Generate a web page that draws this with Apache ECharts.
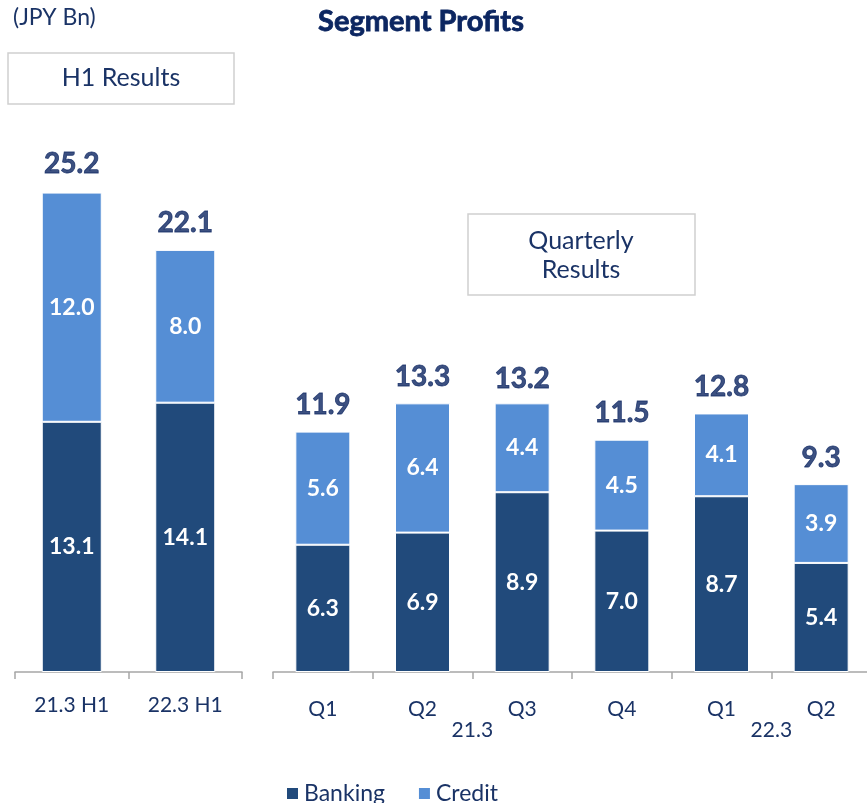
<!DOCTYPE html>
<html>
<head>
<meta charset="utf-8">
<style>
  html, body { margin: 0; padding: 0; background: #fff; }
  #chart { width: 867px; height: 803px; }
</style>
<script src="https://cdn.jsdelivr.net/npm/echarts@6/dist/echarts.min.js"></script>
</head>
<body>
<div id="chart"></div>
<script>
// half year results
var h1Cats = ['21.3 H1', '22.3 H1'];
var h1Banking = [13.1, 14.1];
var h1Credit = [12.0, 8.0];
var h1Total = [25.2, 22.1];

// quarterly results
var qCats = ['Q1', 'Q2', 'Q3', 'Q4', 'Q1', 'Q2'];
var qBanking = [6.3, 6.9, 8.9, 7.0, 8.7, 5.4];
var qCredit = [5.6, 6.4, 4.4, 4.5, 4.1, 3.9];
var qTotal = [11.9, 13.3, 13.2, 11.5, 12.8, 9.3];
var yearLabels = ['', '', '21.3', '', '', '22.3', ''];

var FONT = 'Lato';
var NAVY = '#1a3366';
var DARK = '#0c2661';
var BANK = '#214a7b';
var CRED = '#558ed5';

var chart = echarts.init(document.getElementById('chart'));

function catAxis(grid, data, margin) {
	return {
		type: 'category',
		gridIndex: grid,
		data: data,
		axisLine: { lineStyle: { color: '#a6a6a6', width: 1.5 } },
		axisTick: { show: true, length: 7, lineStyle: { color: '#a6a6a6', width: 1.5 } },
		axisLabel: { color: NAVY, fontSize: 21, fontFamily: FONT, margin: margin }
	};
}

var insideLabel = {
	show: true,
	position: 'inside',
	color: '#fff',
	fontWeight: 'bold',
	fontSize: 23,
	fontFamily: FONT,
	formatter: function (p) { return p.value.toFixed(1); }
};

var totalLabel = {
	show: true,
	position: 'top',
	distance: 12,
	color: DARK,
	fontWeight: 'bold',
	fontSize: 28,
	fontFamily: FONT,
	textBorderColor: DARK,
	textBorderWidth: 0.8,
	formatter: function (p) { return p.value.toFixed(1); }
};

chart.setOption({
	animation: false,
	title: {
		text: 'Segment Profits',
		left: 416,
		textAlign: 'center',
		top: 2,
		textStyle: { color: DARK, fontSize: 29, fontWeight: 'bold', fontFamily: FONT, textBorderColor: DARK, textBorderWidth: 0.8 }
	},
	legend: {
		data: ['Banking', 'Credit'],
		left: 280,
		top: 777,
		itemWidth: 13,
		itemHeight: 13,
		itemGap: 32,
		icon: 'rect',
		textStyle: { color: NAVY, fontSize: 23, fontFamily: FONT }
	},
	grid: [
		{ left: 15, top: 99, width: 227, height: 573, outerBoundsMode: 'none' },
		{ left: 273, top: 66, width: 598, height: 606, outerBoundsMode: 'none' }
	],
	xAxis: [
		catAxis(0, h1Cats, 23),
		catAxis(1, qCats, 27),
		{
			type: 'category',
			gridIndex: 1,
			data: yearLabels,
			boundaryGap: false,
			position: 'bottom',
			axisLine: { show: false },
			axisTick: { show: false },
			axisLabel: { color: NAVY, fontSize: 21, fontFamily: FONT, margin: 48, interval: 0 }
		}
	],
	yAxis: [
		{ type: 'value', gridIndex: 0, min: 0, max: 30, show: false },
		{ type: 'value', gridIndex: 1, min: 0, max: 30, show: false }
	],
	graphic: [
		{
			type: 'text', left: 13, top: 6,
			style: { text: '(JPY Bn)', fill: NAVY, fontSize: 23, fontFamily: FONT }
		},
		{
			type: 'rect', shape: { x: 8, y: 53, width: 226, height: 51 },
			style: { fill: '#fff', stroke: '#d0d0d0', lineWidth: 1.5 }
		},
		{
			type: 'text', x: 121, y: 78,
			style: { text: 'H1 Results', fill: NAVY, fontSize: 25, fontFamily: FONT, align: 'center', verticalAlign: 'middle' }
		},
		{
			type: 'rect', shape: { x: 468, y: 214, width: 227, height: 81 },
			style: { fill: '#fff', stroke: '#d0d0d0', lineWidth: 1.5 }
		},
		{
			type: 'text', x: 581, y: 255,
			style: { text: 'Quarterly\nResults', fill: NAVY, fontSize: 25, lineHeight: 29, fontFamily: FONT, align: 'center', verticalAlign: 'middle' }
		}
	],
	series: [
		{
			name: 'Banking', type: 'bar', xAxisIndex: 0, yAxisIndex: 0, stack: 'h1',
			barWidth: 60, data: h1Banking, label: insideLabel,
			itemStyle: { color: BANK, borderColor: '#fff', borderWidth: 1 }
		},
		{
			name: 'Credit', type: 'bar', xAxisIndex: 0, yAxisIndex: 0, stack: 'h1',
			barWidth: 60, data: h1Credit, label: insideLabel,
			itemStyle: { color: CRED, borderColor: '#fff', borderWidth: 1 }
		},
		{
			name: 'h1Total', type: 'scatter', xAxisIndex: 0, yAxisIndex: 0,
			symbolSize: 1, itemStyle: { color: 'rgba(0,0,0,0)' }, silent: true,
			data: h1Total, label: totalLabel
		},
		{
			name: 'Banking', type: 'bar', xAxisIndex: 1, yAxisIndex: 1, stack: 'q',
			barWidth: 55, data: qBanking, label: insideLabel,
			itemStyle: { color: BANK, borderColor: '#fff', borderWidth: 1 }
		},
		{
			name: 'Credit', type: 'bar', xAxisIndex: 1, yAxisIndex: 1, stack: 'q',
			barWidth: 55, data: qCredit, label: insideLabel,
			itemStyle: { color: CRED, borderColor: '#fff', borderWidth: 1 }
		},
		{
			name: 'qTotal', type: 'scatter', xAxisIndex: 1, yAxisIndex: 1,
			symbolSize: 1, itemStyle: { color: 'rgba(0,0,0,0)' }, silent: true,
			data: qTotal, label: totalLabel
		}
	]
});
</script>
</body>
</html>
